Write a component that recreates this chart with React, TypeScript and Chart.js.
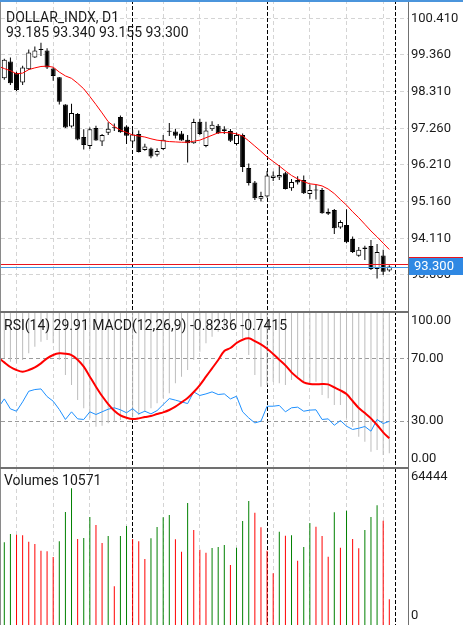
import React, { useEffect, useRef } from "react";
import { Chart, registerables } from "chart.js";

Chart.register(...registerables);

// ---------------- data ----------------
const SYMBOL = "DOLLAR_INDX";
const PERIOD = "D1";

const OPEN = [98.69, 99.17, 98.84, 98.57, 98.95, 99.29, 99.50, 99.49, 98.97, 98.72, 97.94, 97.31, 97.67, 97.01, 96.75, 97.27, 96.88, 97.13, 97.27, 97.58, 97.31, 96.88, 97.10, 96.64, 96.68, 96.50, 96.67, 97.19, 97.17, 97.11, 96.93, 96.83, 97.45, 96.75, 97.23, 97.33, 97.23, 97.18, 96.81, 97.07, 96.12, 95.71, 95.24, 95.31, 95.84, 95.85, 95.97, 95.54, 95.78, 95.78, 95.38, 95.48, 95.49, 94.81, 94.92, 94.42, 94.49, 94.09, 93.61, 93.80, 93.89, 93.23, 93.62, 93.185];
const HIGH = [99.25, 99.29, 98.88, 99.05, 99.52, 99.60, 99.71, 99.55, 99.00, 98.73, 97.95, 97.96, 97.70, 97.23, 97.28, 97.33, 97.10, 97.43, 97.40, 97.63, 97.35, 97.21, 97.20, 96.82, 96.71, 96.69, 97.07, 97.41, 97.25, 97.18, 97.07, 97.53, 97.53, 97.45, 97.46, 97.38, 97.32, 97.24, 97.14, 97.11, 96.25, 95.75, 95.44, 96.04, 96.02, 96.21, 96.01, 95.81, 95.89, 95.91, 95.65, 95.64, 95.55, 94.96, 94.95, 94.63, 94.94, 94.16, 93.86, 93.90, 94.06, 93.95, 93.78, 93.340];
const LOW = [98.65, 98.50, 98.33, 98.50, 98.93, 99.27, 99.33, 98.96, 98.62, 97.94, 97.27, 97.28, 96.92, 96.65, 96.67, 96.90, 96.75, 97.07, 97.18, 97.13, 96.81, 96.81, 96.57, 96.62, 96.40, 96.45, 96.64, 97.04, 96.97, 96.90, 96.28, 96.82, 97.07, 96.72, 97.18, 97.10, 97.10, 96.87, 96.77, 96.01, 95.62, 95.21, 95.17, 95.27, 95.75, 95.78, 95.51, 95.47, 95.65, 95.38, 95.24, 95.22, 94.81, 94.78, 94.23, 94.38, 93.97, 93.69, 93.58, 93.49, 93.20, 92.96, 93.06, 93.155];
const CLOSE = [99.22, 98.55, 98.36, 99.00, 99.43, 99.49, 99.53, 99.00, 98.76, 98.02, 97.28, 97.70, 96.94, 96.78, 97.23, 96.91, 97.07, 97.25, 97.29, 97.15, 97.05, 97.08, 96.58, 96.74, 96.45, 96.61, 96.93, 97.16, 97.05, 96.91, 96.83, 97.44, 97.10, 97.20, 97.36, 97.12, 97.18, 96.90, 97.07, 96.15, 95.69, 95.26, 95.32, 95.91, 95.91, 95.92, 95.52, 95.72, 95.71, 95.40, 95.49, 95.51, 94.83, 94.87, 94.40, 94.58, 94.00, 93.72, 93.78, 93.85, 93.23, 93.72, 93.15, 93.300];

// moving average, first value belongs to bar -1 (just left of the view)
const MA_FROM = -1;
const MA = [99.04, 98.97, 98.91, 98.82, 98.84, 98.94, 98.99, 99.03, 99.04, 99.01, 98.87, 98.76, 98.69, 98.55, 98.39, 98.17, 97.94, 97.70, 97.45, 97.31, 97.21, 97.14, 97.07, 97.04, 97.01, 96.96, 96.92, 96.90, 96.88, 96.87, 96.86, 96.86, 96.89, 96.92, 96.99, 97.06, 97.13, 97.14, 97.13, 97.10, 97.04, 96.90, 96.75, 96.60, 96.44, 96.31, 96.18, 96.04, 95.91, 95.81, 95.73, 95.67, 95.65, 95.61, 95.52, 95.39, 95.22, 95.06, 94.87, 94.70, 94.51, 94.32, 94.15, 93.97, 93.79];

const VOLUME = [33950, 37355, 37070, 36820, 34195, 33250, 30500, 30250, 27910, 34360, 46390, 56110, 35300, 35710, 44330, 41050, 33660, 36530, 15890, 36535, 40640, 35300, 34360, 27090, 35590, 40230, 44210, 45150, 35180, 30090, 50080, 39000, 30910, 29680, 31610, 32020, 32840, 24630, 31730, 42690, 50900, 46100, 40110, 30500, 21220, 38300, 36660, 36820, 26400, 32020, 41870, 40350, 36530, 28040, 46260, 31730, 46920, 35300, 31490, 39000, 44330, 49140, 42820, 10571];

const RSI_FROM = -1;
const RSI = [38.6, 44.3, 37.9, 36.4, 42.4, 49.2, 50.3, 50.7, 45.8, 42.8, 37.5, 31.1, 36.0, 31.5, 31.1, 36.0, 34.3, 36.0, 37.7, 38.6, 37.3, 35.4, 38.1, 34.7, 36.4, 34.7, 36.8, 40.7, 44.5, 43.5, 42.4, 41.3, 48.8, 46.5, 47.5, 48.8, 47.1, 47.5, 44.3, 46.0, 36.0, 32.1, 28.9, 30.0, 39.6, 39.6, 40.1, 36.0, 38.6, 39.0, 36.4, 37.1, 37.3, 31.1, 31.5, 27.4, 30.4, 26.8, 24.7, 25.5, 26.6, 23.6, 31.1, 28.5, 29.91];

const MACD_MAIN = [-0.3039, -0.3222, -0.3313, -0.3131, -0.2766, -0.2401, -0.2127, -0.2036, -0.2219, -0.3131, -0.3952, -0.4499, -0.5320, -0.5776, -0.6324, -0.6780, -0.6725, -0.6597, -0.6506, -0.6415, -0.6360, -0.6287, -0.6141, -0.5959, -0.5776, -0.5503, -0.5229, -0.4955, -0.4408, -0.4043, -0.3678, -0.3131, -0.2675, -0.2219, -0.1854, -0.1580, -0.1397, -0.1306, -0.1397, -0.1945, -0.2857, -0.3952, -0.4590, -0.4499, -0.4317, -0.4408, -0.4499, -0.4225, -0.4043, -0.4317, -0.4408, -0.4317, -0.5047, -0.5229, -0.5594, -0.5594, -0.6324, -0.6780, -0.7327, -0.7601, -0.8148, -0.8057, -0.8331, -0.8236];

const SIGNAL_FROM = -1;
const MACD_SIGNAL = [-0.2985, -0.3259, -0.3514, -0.3678, -0.3769, -0.3678, -0.3532, -0.3313, -0.3039, -0.2857, -0.2766, -0.2784, -0.2857, -0.3113, -0.3496, -0.4043, -0.4590, -0.5101, -0.5539, -0.5904, -0.6159, -0.6287, -0.6360, -0.6324, -0.6251, -0.6196, -0.6087, -0.5995, -0.5868, -0.5685, -0.5448, -0.5211, -0.4882, -0.4499, -0.4043, -0.3587, -0.3131, -0.2638, -0.2474, -0.2200, -0.2018, -0.1945, -0.2091, -0.2273, -0.2510, -0.2802, -0.3113, -0.3423, -0.3806, -0.4098, -0.4353, -0.4445, -0.4463, -0.4445, -0.4463, -0.4627, -0.4791, -0.4992, -0.5375, -0.5758, -0.6032, -0.6324, -0.6689, -0.7090, -0.7415];

const BID = 93.3;
const ASK = 93.34;

const PRICE_TICKS = [100.41, 99.36, 98.31, 97.26, 96.21, 95.16, 94.11, 93.06];
const RSI_TICKS = [100, 70, 30, 0];
const RSI_LEVELS = [70, 30];
const VOLUME_TICKS = [64444, 0];
const GRID_BARS = [2, 8, 14, 20, 26, 32, 38, 44, 50, 56, 62];
const PERIOD_SEPARATORS = [21, 43, 64];

// visible ranges
const X_MIN = -0.54;
const X_MAX = 66.06;
const PRICE_MIN = 92.028;
const PRICE_MAX = 100.934;
const MACD_MIN = -0.9041;
const MACD_MAX = -0.0502;
const VOLUME_MAX = 64444;

// ---------------- style ----------------
const WIDTH = 463;
const PLOT_RIGHT = 408;
const FONT = "Roboto, 'Noto Sans', sans-serif";
const LABEL_FONT = `13px ${FONT}`;
const HEADER_FONT = `14px ${FONT}`;
const TEXT = "#1a1a1a";
const GRID_COLOR = "#d4d4d4";
const GRID_DASH = [4, 3];
const LEVEL_COLOR = "#9a9a9a";
const SEP_DASH = [4, 2];
const FRAME = "#707070";

const last = <T,>(a: T[]) => a[a.length - 1];
const series = (arr: number[], from = 0) => arr.map((v, k) => ({ x: k + from, y: v }));
const pix = (v: number) => Math.floor(v) + 0.5;
const rpix = (v: number) => Math.round(v) + 0.5;

function hLine(ctx: CanvasRenderingContext2D, x1: number, x2: number, y: number) {
  ctx.beginPath();
  ctx.moveTo(x1, y);
  ctx.lineTo(x2, y);
  ctx.stroke();
}
function vLine(ctx: CanvasRenderingContext2D, x: number, y1: number, y2: number) {
  ctx.beginPath();
  ctx.moveTo(x, y1);
  ctx.lineTo(x, y2);
  ctx.stroke();
}

function drawVerticals(chart: any) {
  const { ctx, scales } = chart;
  const xs = scales.x;
  ctx.save();
  ctx.lineWidth = 1;
  ctx.strokeStyle = GRID_COLOR;
  ctx.setLineDash(GRID_DASH);
  for (const b of GRID_BARS) vLine(ctx, pix(xs.getPixelForValue(b)), 0, chart.height);
  ctx.strokeStyle = "#000";
  ctx.setLineDash(SEP_DASH);
  for (const b of PERIOD_SEPARATORS) vLine(ctx, pix(xs.getPixelForValue(b)), 0, chart.height);
  ctx.restore();
}

function drawFrame(chart: any) {
  const { ctx } = chart;
  ctx.save();
  ctx.lineWidth = 1;
  ctx.strokeStyle = "#8a8a8a";
  vLine(ctx, 0.5, 0, chart.height);
  ctx.strokeStyle = FRAME;
  vLine(ctx, PLOT_RIGHT + 0.5, 0, chart.height);
  ctx.restore();
}

function drawLabels(chart: any, axisId: string, values: number[], fmt: (v: number) => string) {
  const { ctx, chartArea: a } = chart;
  const sc = chart.scales[axisId];
  ctx.save();
  ctx.font = LABEL_FONT;
  ctx.fillStyle = TEXT;
  ctx.textBaseline = "middle";
  ctx.textAlign = "left";
  for (const v of values) {
    let y = sc.getPixelForValue(v);
    y = Math.min(Math.max(y, a.top + 9), a.bottom - 9);
    ctx.fillText(fmt(v), PLOT_RIGHT + 3, y);
  }
  ctx.restore();
}

function drawText(chart: any, lines: { t: string; x: number; y: number }[]) {
  const { ctx } = chart;
  ctx.save();
  ctx.font = HEADER_FONT;
  ctx.fillStyle = TEXT;
  ctx.textBaseline = "alphabetic";
  ctx.textAlign = "left";
  for (const l of lines) ctx.fillText(l.t, l.x, l.y);
  ctx.restore();
}

const baseOptions = (padTop: number) => ({
  responsive: false,
  animation: false as const,
  devicePixelRatio: 1,
  events: [] as any[],
  layout: { padding: { left: 1, right: WIDTH - PLOT_RIGHT, top: padTop, bottom: 0 } },
  plugins: { legend: { display: false }, tooltip: { enabled: false }, title: { display: false } },
});

const xScale = { type: "linear" as const, min: X_MIN, max: X_MAX, display: false, offset: false };

// ---------------- price panel ----------------
function priceConfig(): any {
  const pricePlugin = {
    id: "pricePanel",
    beforeDatasetsDraw(chart: any) {
      const { ctx, chartArea: a, scales } = chart;
      ctx.save();
      ctx.lineWidth = 1;
      ctx.strokeStyle = GRID_COLOR;
      ctx.setLineDash(GRID_DASH);
      for (const v of PRICE_TICKS) hLine(ctx, a.left, a.right, pix(scales.y.getPixelForValue(v)));
      ctx.restore();
      drawVerticals(chart);
    },
    afterDatasetsDraw(chart: any) {
      const { ctx, scales } = chart;
      const ys = scales.y;
      ctx.save();
      ctx.lineWidth = 1;
      ctx.strokeStyle = "#e8141e";
      hLine(ctx, 0, PLOT_RIGHT, rpix(ys.getPixelForValue(ASK)) - 1);
      ctx.strokeStyle = "#3f98e4";
      hLine(ctx, 0, PLOT_RIGHT, rpix(ys.getPixelForValue(BID)));
      ctx.restore();

      drawFrame(chart);
      drawLabels(chart, "y", PRICE_TICKS, (v) => v.toFixed(3));

      // current price tags
      const boxH = 17;
      ctx.save();
      const ya = ys.getPixelForValue(ASK);
      ctx.fillStyle = "#e8141e";
      ctx.fillRect(PLOT_RIGHT + 1, Math.round(ya - boxH / 2), WIDTH - PLOT_RIGHT - 1, boxH);
      const yb = ys.getPixelForValue(BID);
      ctx.fillStyle = "#2f88e3";
      ctx.fillRect(PLOT_RIGHT + 1, Math.round(yb - boxH / 2), WIDTH - PLOT_RIGHT - 1, boxH);
      ctx.font = LABEL_FONT;
      ctx.fillStyle = "#ffffff";
      ctx.textBaseline = "middle";
      ctx.fillText(BID.toFixed(3), PLOT_RIGHT + 6, Math.round(yb - boxH / 2) + boxH / 2 + 0.5);
      // top highlight
      ctx.fillStyle = "#4b95dc";
      ctx.fillRect(0, 0, WIDTH, 2);
      ctx.restore();

      const n = CLOSE.length - 1;
      drawText(chart, [
        { t: `${SYMBOL}, ${PERIOD}`, x: 6, y: 22 },
        {
          t: `${OPEN[n].toFixed(3)} ${HIGH[n].toFixed(3)} ${LOW[n].toFixed(3)} ${CLOSE[n].toFixed(3)}`,
          x: 6,
          y: 37,
        },
      ]);
    },
  };

  return {
    type: "bar",
    data: {
      datasets: [
        {
          type: "bar",
          data: OPEN.map((_, i) => ({ x: i, y: [LOW[i], HIGH[i]] })),
          backgroundColor: "#000000",
          barThickness: 1,
          grouped: false,
          inflateAmount: 0,
          order: 3,
        },
        {
          type: "bar",
          data: OPEN.map((o, i) => ({ x: i, y: [o, CLOSE[i]] })),
          backgroundColor: OPEN.map((o, i) => (CLOSE[i] >= o ? "#ffffff" : "#000000")),
          borderColor: "#000000",
          borderWidth: 1,
          borderSkipped: false,
          barThickness: 5,
          grouped: false,
          inflateAmount: 0,
          order: 2,
        },
        {
          type: "line",
          data: series(MA, MA_FROM),
          borderColor: "#ff0000",
          borderWidth: 1,
          pointRadius: 0,
          tension: 0,
          fill: false,
          order: 1,
        },
      ],
    },
    options: {
      ...baseOptions(0),
      scales: {
        x: xScale,
        y: { type: "linear", min: PRICE_MIN, max: PRICE_MAX, display: false },
      },
    },
    plugins: [pricePlugin],
  };
}

// ---------------- RSI + MACD panel ----------------
function oscConfig(): any {
  const oscPlugin = {
    id: "oscPanel",
    beforeDatasetsDraw(chart: any) {
      const { ctx, chartArea: a, scales } = chart;
      drawVerticals(chart);
      ctx.save();
      ctx.lineWidth = 1;
      ctx.strokeStyle = LEVEL_COLOR;
      ctx.setLineDash(GRID_DASH);
      for (const v of RSI_LEVELS) hLine(ctx, a.left, a.right, pix(scales.yRsi.getPixelForValue(v)));
      ctx.restore();
    },
    afterDatasetsDraw(chart: any) {
      const { ctx } = chart;
      drawFrame(chart);
      ctx.save();
      ctx.fillStyle = FRAME;
      ctx.fillRect(0, 0, PLOT_RIGHT + 1, 2);
      ctx.fillRect(0, chart.height - 1, PLOT_RIGHT + 1, 1);
      ctx.restore();
      drawLabels(chart, "yRsi", RSI_TICKS, (v) => v.toFixed(2));
      drawText(chart, [
        {
          t: `RSI(14) ${last(RSI).toFixed(2)} MACD(12,26,9) ${last(MACD_MAIN).toFixed(4)} ${last(MACD_SIGNAL).toFixed(4)}`,
          x: 4,
          y: 19,
        },
      ]);
    },
  };

  return {
    type: "bar",
    data: {
      datasets: [
        {
          type: "bar",
          yAxisID: "yMacd",
          data: series(MACD_MAIN),
          backgroundColor: "#bdbdbd",
          barThickness: 1,
          grouped: false,
          inflateAmount: 0,
          order: 3,
        },
        {
          type: "line",
          yAxisID: "yRsi",
          data: series(RSI, RSI_FROM),
          borderColor: "#1e90ff",
          borderWidth: 1,
          pointRadius: 0,
          tension: 0,
          fill: false,
          order: 2,
        },
        {
          type: "line",
          yAxisID: "yMacd",
          data: series(MACD_SIGNAL, SIGNAL_FROM),
          borderColor: "#ff0000",
          borderWidth: 2,
          pointRadius: 0,
          tension: 0.3,
          fill: false,
          order: 1,
        },
      ],
    },
    options: {
      ...baseOptions(1),
      scales: {
        x: xScale,
        yRsi: { axis: "y", type: "linear", min: 0, max: 100, display: false },
        yMacd: { axis: "y", type: "linear", min: MACD_MIN, max: MACD_MAX, display: false },
      },
    },
    plugins: [oscPlugin],
  };
}

// ---------------- volume panel ----------------
function volumeConfig(): any {
  const volPlugin = {
    id: "volPanel",
    beforeDatasetsDraw(chart: any) {
      drawVerticals(chart);
    },
    afterDatasetsDraw(chart: any) {
      const { ctx } = chart;
      drawFrame(chart);
      ctx.save();
      ctx.fillStyle = FRAME;
      ctx.fillRect(0, 0, PLOT_RIGHT + 1, 1);
      ctx.restore();
      drawLabels(chart, "y", VOLUME_TICKS, (v) => String(v));
      drawText(chart, [{ t: `Volumes ${last(VOLUME)}`, x: 4, y: 17 }]);
    },
  };

  return {
    type: "bar",
    data: {
      datasets: [
        {
          type: "bar",
          data: series(VOLUME),
          backgroundColor: VOLUME.map((v, i) => (i === 0 || v >= VOLUME[i - 1] ? "#008000" : "#ff0000")),
          barThickness: 1,
          grouped: false,
          inflateAmount: 0,
        },
      ],
    },
    options: {
      ...baseOptions(0),
      scales: {
        x: xScale,
        y: { type: "linear", min: 0, max: VOLUME_MAX, display: false },
      },
    },
    plugins: [volPlugin],
  };
}

export default function App() {
  const priceRef = useRef<HTMLCanvasElement>(null);
  const oscRef = useRef<HTMLCanvasElement>(null);
  const volRef = useRef<HTMLCanvasElement>(null);

  useEffect(() => {
    const charts = [
      new Chart(priceRef.current!, priceConfig()),
      new Chart(oscRef.current!, oscConfig()),
      new Chart(volRef.current!, volumeConfig()),
    ];
    return () => charts.forEach((c) => c.destroy());
  }, []);

  const cv = (top: number, h: number) => ({
    position: "absolute" as const,
    left: 0,
    top,
    width: WIDTH,
    height: h,
    display: "block",
  });

  return (
    <div style={{ position: "absolute", left: 0, top: 0, width: WIDTH, height: 625, background: "#ffffff", overflow: "hidden" }}>
      <canvas ref={priceRef} width={WIDTH} height={311} style={cv(0, 311)} />
      <canvas ref={oscRef} width={WIDTH} height={157} style={cv(311, 157)} />
      <canvas ref={volRef} width={WIDTH} height={157} style={cv(468, 157)} />
    </div>
  );
}
